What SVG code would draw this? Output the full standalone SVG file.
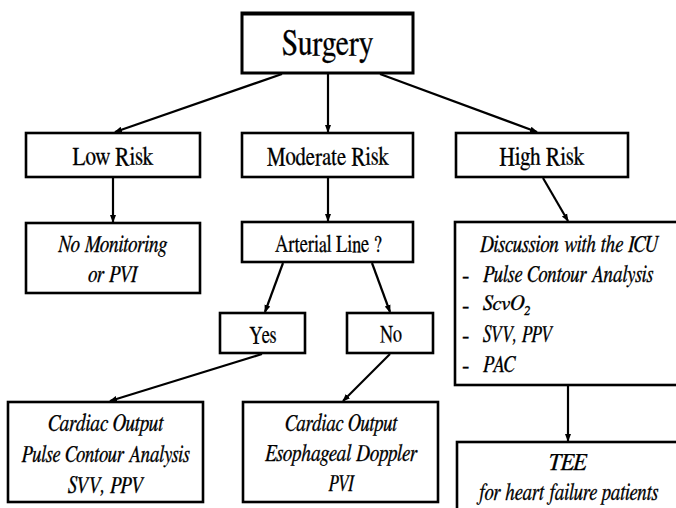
<svg xmlns="http://www.w3.org/2000/svg" width="676" height="508" viewBox="0 0 676 508">
<style>
.box{fill:#fff;stroke:#000;stroke-width:2.6}
.t{font-family:FreeSerif,'Liberation Serif','Times New Roman',serif;fill:#000;stroke:#000;stroke-width:0.3;text-anchor:middle}
.i{font-style:italic}
.l{text-anchor:start}
.c{stroke:#000;stroke-width:2.2;fill:none;marker-end:url(#ah)}
</style>
<defs>
<marker id="ah" markerUnits="userSpaceOnUse" markerWidth="8" markerHeight="8" viewBox="0 0 8 8" refX="7" refY="4" orient="auto">
<path d="M0,1 L8,4 L0,7 Z" fill="#000"/>
</marker>
</defs>
<g id="connectors">
<line class="c" x1="282" y1="74" x2="115" y2="132"/>
<line class="c" x1="328" y1="74" x2="328" y2="132"/>
<line class="c" x1="380" y1="74" x2="537" y2="132"/>
<line class="c" x1="113" y1="178" x2="113" y2="222"/>
<line class="c" x1="328" y1="178" x2="328" y2="221"/>
<line class="c" x1="543" y1="178" x2="568" y2="221"/>
<line class="c" x1="283" y1="263" x2="265" y2="312"/>
<line class="c" x1="372" y1="263" x2="390" y2="312"/>
<line class="c" x1="262" y1="354" x2="110" y2="401"/>
<line class="c" x1="390" y1="354" x2="343" y2="401"/>
<line class="c" x1="568" y1="386" x2="568" y2="441"/>
</g>
<g id="surgery">
<rect class="box" x="242" y="13" width="171" height="60" style="stroke-width:3"/>
<line x1="242" y1="14" x2="413" y2="14" stroke="#000" stroke-width="3"/>
<text class="t" x="327.5" y="55" font-size="36" textLength="91" lengthAdjust="spacingAndGlyphs">Surgery</text>
</g>
<g id="low-risk">
<rect class="box" x="26" y="133" width="174" height="44"/>
<text class="t" x="113" y="165" font-size="26" textLength="81" lengthAdjust="spacingAndGlyphs">Low Risk</text>
</g>
<g id="moderate-risk">
<rect class="box" x="242" y="133" width="171" height="44"/>
<text class="t" x="328" y="165" font-size="26" textLength="122" lengthAdjust="spacingAndGlyphs">Moderate Risk</text>
</g>
<g id="high-risk">
<rect class="box" x="456" y="133" width="172" height="44"/>
<text class="t" x="542" y="165" font-size="26" textLength="85" lengthAdjust="spacingAndGlyphs">High Risk</text>
</g>
<g id="no-monitoring">
<rect class="box" x="26" y="223" width="174" height="70"/>
<text class="t i" x="112.5" y="252" font-size="24" textLength="109" lengthAdjust="spacingAndGlyphs">No Monitoring</text>
<text class="t i" x="112.5" y="282" font-size="24" textLength="49" lengthAdjust="spacingAndGlyphs">or PVI</text>
</g>
<g id="arterial-line">
<rect class="box" x="242" y="222" width="171" height="40"/>
<text class="t" x="328.5" y="252" font-size="24" textLength="107" lengthAdjust="spacingAndGlyphs">Arterial Line ?</text>
</g>
<g id="discussion">
<rect class="box" x="455" y="222" width="224" height="163"/>
<text class="t i" x="569" y="252" font-size="24" textLength="178" lengthAdjust="spacingAndGlyphs">Discussion with the ICU</text>
<text class="t l" x="462" y="282" font-size="22">-</text>
<text class="t i l" x="483" y="282" font-size="24" textLength="170" lengthAdjust="spacingAndGlyphs">Pulse Contour Analysis</text>
<text class="t l" x="462" y="312" font-size="22">-</text>
<text class="t i l" x="483" y="310" font-size="21">ScvO<tspan font-size="13" dy="5">2</tspan></text>
<text class="t l" x="462" y="342" font-size="22">-</text>
<text class="t i l" x="483" y="342" font-size="24" textLength="69" lengthAdjust="spacingAndGlyphs">SVV, PPV</text>
<text class="t l" x="462" y="372" font-size="22">-</text>
<text class="t i l" x="483" y="372" font-size="24" textLength="32" lengthAdjust="spacingAndGlyphs">PAC</text>
</g>
<g id="yes">
<rect class="box" x="220" y="313" width="85" height="40"/>
<text class="t" x="263" y="343" font-size="24" textLength="27" lengthAdjust="spacingAndGlyphs">Yes</text>
</g>
<g id="no">
<rect class="box" x="347" y="313" width="86" height="40"/>
<text class="t" x="391" y="342" font-size="24" textLength="22" lengthAdjust="spacingAndGlyphs">No</text>
</g>
<g id="cardiac-left">
<rect class="box" x="8" y="402" width="195" height="100"/>
<text class="t i" x="105.5" y="431" font-size="24" textLength="115" lengthAdjust="spacingAndGlyphs">Cardiac Output</text>
<text class="t i" x="105.5" y="462" font-size="24" textLength="168" lengthAdjust="spacingAndGlyphs">Pulse Contour Analysis</text>
<text class="t i" x="105.5" y="493" font-size="24" textLength="75" lengthAdjust="spacingAndGlyphs">SVV, PPV</text>
</g>
<g id="cardiac-middle">
<rect class="box" x="243" y="402" width="195" height="100"/>
<text class="t i" x="341" y="431" font-size="24" textLength="112" lengthAdjust="spacingAndGlyphs">Cardiac Output</text>
<text class="t i" x="341" y="461" font-size="24" textLength="152" lengthAdjust="spacingAndGlyphs">Esophageal Doppler</text>
<text class="t i" x="341" y="491" font-size="24" textLength="25" lengthAdjust="spacingAndGlyphs">PVI</text>
</g>
<g id="tee">
<rect class="box" x="457" y="442" width="222" height="80"/>
<text class="t i" x="567" y="470" font-size="24" textLength="38" lengthAdjust="spacingAndGlyphs">TEE</text>
<text class="t i" x="568" y="500" font-size="24" textLength="180" lengthAdjust="spacingAndGlyphs">for heart failure patients</text>
</g>
</svg>
